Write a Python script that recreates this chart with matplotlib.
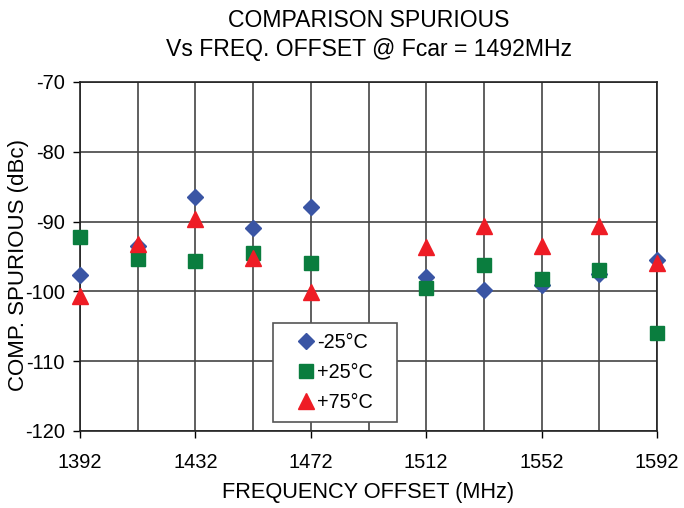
import numpy as np
import matplotlib
matplotlib.use("Agg")
import matplotlib.pyplot as plt

plt.rcParams['font.family'] = ['Liberation Sans', 'DejaVu Sans']
plt.rcParams['axes.unicode_minus'] = False

# data
freq = [1392, 1412, 1432, 1452, 1472, 1512, 1532, 1552, 1572, 1592]
minus25 = [-97.7, -93.5, -86.5, -90.9, -87.9, -97.9, -99.8, -99.1, -97.5, -95.5]
plus25 = [-92.2, -95.4, -95.6, -94.5, -96.0, -99.5, -96.2, -98.2, -96.9, -105.9]
plus75 = [-100.7, -93.2, -89.6, -95.2, -100.1, -93.6, -90.7, -93.5, -90.7, -96.0]
series_labels = ['-25°C', '+25°C', '+75°C']

fig = plt.figure(figsize=(6.84, 5.08), dpi=100)
ax = fig.add_axes([0.117, 0.1516, 0.8435, 0.687])

ax.plot(freq, minus25, 'D', color='#3a55a4', ms=8.5, mec='#3a55a4', ls='none',
        label=series_labels[0], zorder=3, clip_on=False)
ax.plot(freq, plus25, 's', color='#0a7d3e', ms=10, mec='#0a7d3e', ls='none',
        label=series_labels[1], zorder=4, clip_on=False)
ax.plot(freq, plus75, '^', color='#ee1c25', ms=11, mec='#ee1c25', ls='none',
        label=series_labels[2], zorder=5, clip_on=False)

ax.set_xlim(1392, 1592)
ax.set_ylim(-120, -70)
ax.set_xticks(np.arange(1392, 1593, 40))
ax.set_xticks(np.arange(1392, 1593, 20), minor=True)
ax.set_yticks(np.arange(-120, -69, 10))
ax.tick_params(which='major', direction='out', length=5, width=1, labelsize=14.4, pad=6)
ax.tick_params(axis='x', which='major', pad=11)
ax.tick_params(which='minor', length=0)
ax.grid(True, which='both', color='#444444', lw=1.2)
for s in ax.spines.values():
    s.set_color('#222222')
    s.set_linewidth(1.2)

ax.set_title('COMPARISON SPURIOUS\nVs FREQ. OFFSET @ Fcar = 1492MHz',
             fontsize=16.6, pad=19, linespacing=1.3)
ax.set_xlabel('FREQUENCY OFFSET (MHz)', fontsize=15.7, labelpad=7)
ax.set_ylabel('COMP. SPURIOUS (dBc)', fontsize=16)
ax.yaxis.set_label_coords(-0.089, 0.476)

leg = ax.legend(loc='lower left', bbox_to_anchor=(0.334, 0.026, 0.215, 0),
                mode='expand', borderaxespad=0, fontsize=14.3,
                fancybox=False, framealpha=1, edgecolor='#555555',
                borderpad=0.5, labelspacing=0.55, handletextpad=-0.65,
                handlelength=2.4)
leg.get_frame().set_linewidth(1.2)

fig.savefig('out.png', dpi=100)
